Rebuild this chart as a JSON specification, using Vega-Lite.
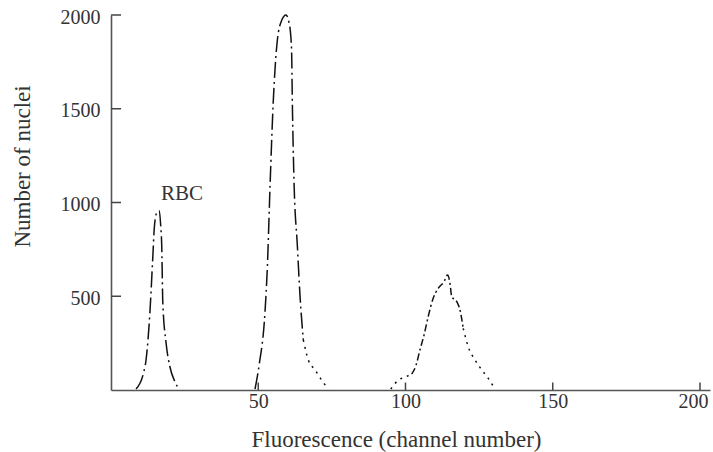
{
  "$schema": "https://vega.github.io/schema/vega-lite/v6.json",
  "width": 599,
  "height": 375,
  "autosize": {"type": "none"},
  "padding": {"left": 111, "top": 15, "right": 3, "bottom": 62},
  "background": "white",
  "config": {"view": {"stroke": null}, "font": "Liberation Serif"},
  "datasets": {
    "curves": [
      {"segment": "RBC", "style": "long", "channel": 8.5, "count": 5},
      {"segment": "RBC", "style": "long", "channel": 11.0, "count": 89},
      {"segment": "RBC", "style": "long", "channel": 11.9, "count": 160},
      {"segment": "RBC", "style": "long", "channel": 13.2, "count": 411},
      {"segment": "RBC", "style": "long", "channel": 14.2, "count": 711},
      {"segment": "RBC", "style": "long", "channel": 14.7, "count": 864},
      {"segment": "RBC", "style": "long", "channel": 15.5, "count": 944},
      {"segment": "RBC", "style": "long", "channel": 16.4, "count": 956},
      {"segment": "RBC", "style": "long", "channel": 16.9, "count": 871},
      {"segment": "RBC", "style": "long", "channel": 17.2, "count": 784},
      {"segment": "RBC", "style": "long", "channel": 17.6, "count": 464},
      {"segment": "RBC", "style": "long", "channel": 18.7, "count": 251},
      {"segment": "RBC", "style": "long", "channel": 20.0, "count": 124},
      {"segment": "RBC", "style": "long", "channel": 21.7, "count": 44},
      {"segment": "RBC", "style": "long", "channel": 23.1, "count": 5},
      {"segment": "P2main", "style": "long", "channel": 48.9, "count": 5},
      {"segment": "P2main", "style": "long", "channel": 50.3, "count": 133},
      {"segment": "P2main", "style": "long", "channel": 52.3, "count": 418},
      {"segment": "P2main", "style": "long", "channel": 53.1, "count": 658},
      {"segment": "P2main", "style": "long", "channel": 54.0, "count": 1084},
      {"segment": "P2main", "style": "long", "channel": 55.1, "count": 1538},
      {"segment": "P2main", "style": "long", "channel": 56.5, "count": 1867},
      {"segment": "P2main", "style": "long", "channel": 58.0, "count": 1973},
      {"segment": "P2main", "style": "long", "channel": 59.4, "count": 2000},
      {"segment": "P2main", "style": "long", "channel": 60.5, "count": 1956},
      {"segment": "P2main", "style": "long", "channel": 61.3, "count": 1822},
      {"segment": "P2main", "style": "long", "channel": 61.6, "count": 1511},
      {"segment": "P2main", "style": "long", "channel": 62.1, "count": 1138},
      {"segment": "P2main", "style": "long", "channel": 63.3, "count": 764},
      {"segment": "P2main", "style": "long", "channel": 64.2, "count": 498},
      {"segment": "P2main", "style": "long", "channel": 65.3, "count": 267},
      {"segment": "P2tail", "style": "dotted", "channel": 65.3, "count": 267},
      {"segment": "P2tail", "style": "dotted", "channel": 67.0, "count": 160},
      {"segment": "P2tail", "style": "dotted", "channel": 69.3, "count": 107},
      {"segment": "P2tail", "style": "dotted", "channel": 71.5, "count": 53},
      {"segment": "P2tail", "style": "dotted", "channel": 73.8, "count": 5},
      {"segment": "P3lead", "style": "dotted", "channel": 95.0, "count": 5},
      {"segment": "P3lead", "style": "dotted", "channel": 97.6, "count": 53},
      {"segment": "P3lead", "style": "dotted", "channel": 99.8, "count": 68},
      {"segment": "P3lead", "style": "dotted", "channel": 102.1, "count": 85},
      {"segment": "P3main", "style": "short", "channel": 102.1, "count": 85},
      {"segment": "P3main", "style": "short", "channel": 103.6, "count": 133},
      {"segment": "P3main", "style": "short", "channel": 104.9, "count": 213},
      {"segment": "P3main", "style": "short", "channel": 106.3, "count": 293},
      {"segment": "P3main", "style": "short", "channel": 107.7, "count": 391},
      {"segment": "P3main", "style": "short", "channel": 109.4, "count": 489},
      {"segment": "P3main", "style": "short", "channel": 111.1, "count": 542},
      {"segment": "P3main", "style": "short", "channel": 113.1, "count": 578},
      {"segment": "P3main", "style": "short", "channel": 114.3, "count": 613},
      {"segment": "P3main", "style": "short", "channel": 115.1, "count": 569},
      {"segment": "P3main", "style": "short", "channel": 115.7, "count": 498},
      {"segment": "P3main", "style": "short", "channel": 117.4, "count": 471},
      {"segment": "P3main", "style": "short", "channel": 118.5, "count": 427},
      {"segment": "P3main", "style": "short", "channel": 119.6, "count": 329},
      {"segment": "P3tail", "style": "dotted", "channel": 119.6, "count": 329},
      {"segment": "P3tail", "style": "dotted", "channel": 121.3, "count": 231},
      {"segment": "P3tail", "style": "dotted", "channel": 123.6, "count": 160},
      {"segment": "P3tail", "style": "dotted", "channel": 125.9, "count": 107},
      {"segment": "P3tail", "style": "dotted", "channel": 128.1, "count": 62},
      {"segment": "P3tail", "style": "dotted", "channel": 130.4, "count": 5}
    ],
    "labels": [
      {"channel": 24.1, "count": 1013, "text": "RBC"}
    ],
    "yticks": [
      {"level": 500, "start": 0, "stop": 3.4},
      {"level": 1000, "start": 0, "stop": 3.4},
      {"level": 1500, "start": 0, "stop": 3.4},
      {"level": 2000, "start": 0, "stop": 3.4}
    ],
    "xticks": [
      {"position": 50, "low": 0, "high": 40},
      {"position": 100, "low": 0, "high": 40},
      {"position": 150, "low": 0, "high": 40},
      {"position": 200, "low": 0, "high": 40}
    ]
  },
  "layer": [
    {
      "data": {"name": "curves"},
      "mark": {"type": "line", "interpolate": "monotone", "color": "#111111", "strokeWidth": 1.5},
      "encoding": {
        "x": {
          "field": "channel", "type": "quantitative",
          "scale": {"domain": [0, 203.4], "nice": false, "zero": false},
          "axis": {
            "values": [50, 100, 150, 200],
            "format": "d",
            "grid": false,
            "ticks": false,
            "title": "Fluorescence (channel number)",
            "titleFont": "Liberation Serif", "titleFontSize": 23, "titleFontWeight": "normal", "titleColor": "#333333",
            "titleX": 285, "titleY": 56, "titleBaseline": "alphabetic",
            "labelFont": "Liberation Serif", "labelFontSize": 20, "labelColor": "#333333",
            "labelPadding": 1, "labelFlush": 12, "labelFlushOffset": 8,
            "domainColor": "#555555", "domainWidth": 1.6
          }
        },
        "y": {
          "field": "count", "type": "quantitative",
          "scale": {"domain": [0, 2000], "nice": false},
          "axis": {
            "values": [500, 1000, 1500, 2000],
            "format": "d",
            "grid": false,
            "ticks": false,
            "title": "Number of nuclei",
            "titleFont": "Liberation Serif", "titleFontSize": 23, "titleFontWeight": "normal", "titleColor": "#333333",
            "titleX": -82, "titleY": 151, "titleBaseline": "alphabetic",
            "labelFont": "Liberation Serif", "labelFontSize": 20, "labelColor": "#333333",
            "labelPadding": 11, "labelFlush": false, "labelOffset": 2,
            "domainColor": "#555555", "domainWidth": 1.6
          }
        },
        "detail": {"field": "segment", "type": "nominal"},
        "strokeDash": {
          "field": "style", "type": "nominal",
          "scale": {"domain": ["long", "short", "dotted"], "range": [[16, 4, 2, 4], [7, 3, 2, 3], [2, 5]]},
          "legend": null
        }
      }
    },
    {
      "data": {"name": "yticks"},
      "mark": {"type": "rule", "color": "#444444", "strokeWidth": 1.5, "strokeDash": [1, 0]},
      "encoding": {
        "x": {"field": "start", "type": "quantitative"},
        "x2": {"field": "stop"},
        "y": {"field": "level", "type": "quantitative"}
      }
    },
    {
      "data": {"name": "xticks"},
      "mark": {"type": "rule", "color": "#444444", "strokeWidth": 1.5, "strokeDash": [1, 0]},
      "encoding": {
        "x": {"field": "position", "type": "quantitative"},
        "y": {"field": "low", "type": "quantitative"},
        "y2": {"field": "high"}
      }
    },
    {
      "data": {"name": "labels"},
      "mark": {"type": "text", "font": "Liberation Serif", "fontSize": 21, "color": "#333333", "align": "center", "baseline": "alphabetic"},
      "encoding": {
        "x": {"field": "channel", "type": "quantitative"},
        "y": {"field": "count", "type": "quantitative"},
        "text": {"field": "text", "type": "nominal"}
      }
    }
  ]
}
